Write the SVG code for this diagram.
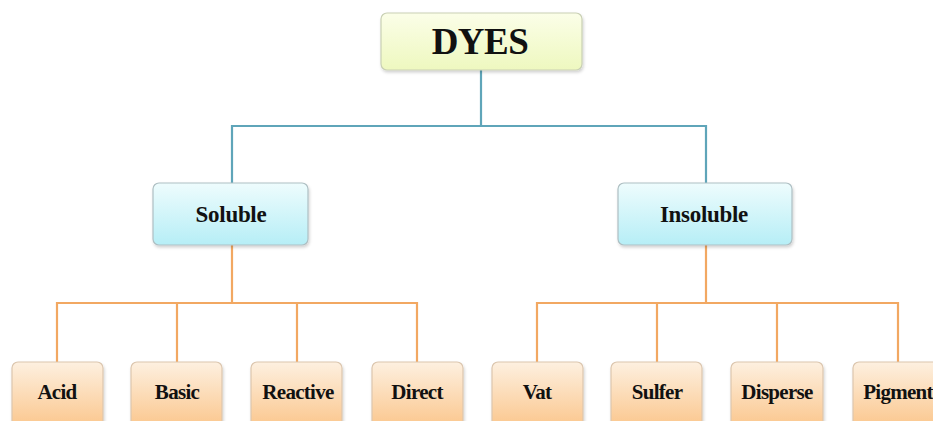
<svg xmlns="http://www.w3.org/2000/svg" width="933" height="421" viewBox="0 0 933 421">
  <defs>
    <linearGradient id="gTop" x1="0" y1="0" x2="0" y2="1">
      <stop offset="0" stop-color="#fbfee8"/>
      <stop offset="1" stop-color="#eef8bf"/>
    </linearGradient>
    <linearGradient id="gBlue" x1="0" y1="0" x2="0" y2="1">
      <stop offset="0" stop-color="#eefcfd"/>
      <stop offset="1" stop-color="#b6eef6"/>
    </linearGradient>
    <linearGradient id="gOrange" x1="0" y1="0" x2="0" y2="1">
      <stop offset="0" stop-color="#fdf0e0"/>
      <stop offset="1" stop-color="#fbc68c"/>
    </linearGradient>
    <filter id="shadow" x="-10%" y="-10%" width="130%" height="140%">
      <feDropShadow dx="1" dy="2" stdDeviation="1.5" flood-color="#000" flood-opacity="0.18"/>
    </filter>
  </defs>
  <style>
    .box { stroke-width: 1.2; filter: url(#shadow); }
    .top { fill: url(#gTop); stroke: #c9d0b4; }
    .mid { fill: url(#gBlue); stroke: #aebfc3; }
    .leaf { fill: url(#gOrange); stroke: #dcc6ae; }
    .lbl { font-family: "Liberation Serif", "Times New Roman", serif; font-weight: bold; fill: #111111; text-anchor: middle; }
    .l2 { font-size: 23px; letter-spacing: -0.3px; }
    .l3 { font-size: 21px; letter-spacing: -0.7px; }
    .blue { stroke: #5fa5b9; stroke-width: 2.2; fill: none; }
    .orange { stroke: #f2a862; stroke-width: 2.2; fill: none; }
  </style>

  <rect width="933" height="421" fill="#ffffff"/>

  <!-- connectors -->
  <g id="connectors">
    <path class="blue" d="M481 70 V126 M232 183 V126 H706 V183"/>
    <path class="orange" d="M232 245 V303 M57 362 V303 H417 V362 M177 303 V362 M297 303 V362"/>
    <path class="orange" d="M706 245 V303 M537 362 V303 H898 V362 M657 303 V362 M777 303 V362"/>
  </g>

  <!-- root -->
  <g id="dyes">
    <rect class="box top" x="381" y="13" width="201" height="57" rx="6"/>
    <text class="lbl" x="480" y="54" font-size="37" letter-spacing="-0.5">DYES</text>
  </g>

  <!-- second level -->
  <g id="soluble">
    <rect class="box mid" x="153" y="183" width="155" height="62" rx="6"/>
    <text class="lbl l2" x="231" y="222">Soluble</text>
  </g>
  <g id="insoluble">
    <rect class="box mid" x="618" y="183" width="174" height="62" rx="6"/>
    <text class="lbl l2" x="704" y="222">Insoluble</text>
  </g>

  <!-- leaves -->
  <g id="acid">
    <rect class="box leaf" x="12" y="362" width="91" height="66" rx="6"/>
    <text class="lbl l3" x="57" y="399">Acid</text>
  </g>
  <g id="basic">
    <rect class="box leaf" x="131" y="362" width="91" height="66" rx="6"/>
    <text class="lbl l3" x="177" y="399">Basic</text>
  </g>
  <g id="reactive">
    <rect class="box leaf" x="251" y="362" width="91" height="66" rx="6"/>
    <text class="lbl l3" x="298" y="399">Reactive</text>
  </g>
  <g id="direct">
    <rect class="box leaf" x="372" y="362" width="91" height="66" rx="6"/>
    <text class="lbl l3" x="417" y="399">Direct</text>
  </g>
  <g id="vat">
    <rect class="box leaf" x="492" y="362" width="91" height="66" rx="6"/>
    <text class="lbl l3" x="537" y="399">Vat</text>
  </g>
  <g id="sulfer">
    <rect class="box leaf" x="611" y="362" width="91" height="66" rx="6"/>
    <text class="lbl l3" x="657" y="399">Sulfer</text>
  </g>
  <g id="disperse">
    <rect class="box leaf" x="731" y="362" width="92" height="66" rx="6"/>
    <text class="lbl l3" x="777" y="399">Disperse</text>
  </g>
  <g id="pigment">
    <rect class="box leaf" x="853" y="362" width="91" height="66" rx="6"/>
    <text class="lbl l3" x="898" y="399">Pigment</text>
  </g>
</svg>
